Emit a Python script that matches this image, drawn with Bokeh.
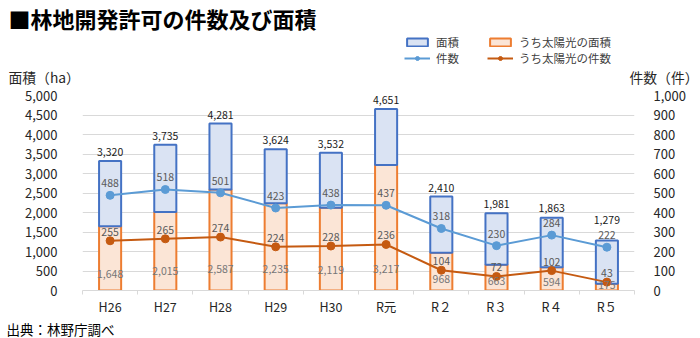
from bokeh.plotting import figure
from bokeh.layouts import column
from bokeh.models import (Range1d, LinearAxis, FixedTicker, ColumnDataSource, Label,
                          Legend, LegendItem, Grid, NumeralTickFormatter)
from bokeh.core.properties import value
from bokeh.embed import file_html
from bokeh.resources import INLINE
import numpy as np

categories = ["H26", "H27", "H28", "H29", "H30", "R元", "R２", "R３", "R４", "R５"]
total_area = [3320, 3735, 4281, 3624, 3532, 4651, 2410, 1981, 1863, 1279]
solar_area = [1648, 2015, 2587, 2235, 2119, 3217, 968, 663, 594, 175]
count = [488, 518, 501, 423, 438, 437, 318, 230, 284, 222]
solar_count = [255, 265, 274, 224, 228, 236, 104, 72, 102, 43]
area_ticks = [0, 500, 1000, 1500, 2000, 2500, 3000, 3500, 4000, 4500, 5000]
count_ticks = [0, 100, 200, 300, 400, 500, 600, 700, 800, 900, 1000]

FONT = "Noto Sans CJK JP"
BLUE_FILL, BLUE_LINE = "#DAE3F3", "#4472C4"
OR_FILL, OR_LINE = "#FBE5D6", "#ED7D31"
CNT_BLUE, CNT_OR = "#5B9BD5", "#C55A11"
W = 700
TOP_H, MAIN_H, BOT_H = 86, 232, 20

n = len(categories)
idx = list(range(n))

def bare(h):
    f = figure(width=W, height=h, x_range=Range1d(0, W), y_range=Range1d(0, h),
               output_backend="svg", toolbar_location=None,
               x_axis_location=None, y_axis_location=None, min_border=0)
    f.outline_line_color = None
    f.xgrid.visible = False
    f.ygrid.visible = False
    f.frame_align = False
    return f

def add_text(fig, txt, x, y, size, bold=False, color="#000000"):
    fig.add_layout(Label(x=x, y=y, x_units="screen", y_units="screen", text=txt,
                         text_font=FONT, text_font_size=size, text_color=color,
                         text_font_style="bold" if bold else "normal",
                         text_baseline="middle", text_align="left"))

# ---------- header: title, legend, axis titles ----------
top = bare(TOP_H)
add_text(top, "■林地開発許可の件数及び面積", 8, TOP_H - 17, "22px", bold=True)
add_text(top, "面積（ha）", 8, TOP_H - 76, "13.8px", color="#262626")
add_text(top, "件数（件）", 629, TOP_H - 76, "13.8px", color="#262626")

nan = [float("nan")]
lg_bl = top.vbar(x=nan, top=nan, width=1, fill_color=BLUE_FILL, line_color=BLUE_LINE, line_width=2)
lg_or = top.vbar(x=nan, top=nan, width=1, fill_color=OR_FILL, line_color=OR_LINE, line_width=2)
lg_l1 = top.line(x=nan, y=nan, line_color=CNT_BLUE, line_width=2)
lg_s1 = top.scatter(x=nan, y=nan, size=8, fill_color=CNT_BLUE, line_color=CNT_BLUE)
lg_l2 = top.line(x=nan, y=nan, line_color=CNT_OR, line_width=2)
lg_s2 = top.scatter(x=nan, y=nan, size=8, fill_color=CNT_OR, line_color=CNT_OR)
legend = Legend(items=[
    LegendItem(label="面積", renderers=[lg_bl]),
    LegendItem(label="件数", renderers=[lg_l1, lg_s1]),
    LegendItem(label="うち太陽光の面積", renderers=[lg_or]),
    LegendItem(label="うち太陽光の件数", renderers=[lg_l2, lg_s2]),
], location=(404, TOP_H - 66), nrows=2, orientation="vertical")
legend.label_text_font = FONT
legend.label_text_font_size = "11.5px"
legend.label_text_color = "#404040"
legend.glyph_width = 26
legend.glyph_height = 10
legend.label_height = 12
legend.label_width = 51
legend.label_standoff = 6
legend.spacing = -4
legend.padding = 0
legend.margin = 0
legend.border_line_color = None
legend.background_fill_alpha = 0
top.add_layout(legend, "center")

# ---------- main chart ----------
p = figure(width=W, height=MAIN_H, x_range=Range1d(-0.5, n - 0.5),
           y_range=Range1d(0, 5000), output_backend="svg", toolbar_location=None,
           x_axis_location=None, y_axis_location=None,
           min_border_left=82, min_border_right=66, min_border_top=9, min_border_bottom=27)
p.frame_align = False
p.extra_y_ranges = {"cnt": Range1d(0, 1000)}
p.outline_line_color = None
p.xgrid.visible = False
p.ygrid.visible = False

yax = LinearAxis(ticker=FixedTicker(ticks=area_ticks))
yax.axis_line_color = None
yax.major_tick_line_color = None
yax.minor_tick_line_color = None
yax.major_label_standoff = 19
yax.major_label_text_font = FONT
yax.major_label_text_font_size = "13px"
yax.major_label_text_color = "#262626"
yax.formatter = NumeralTickFormatter(format="0,0")
p.add_layout(yax, "left")

rax = LinearAxis(y_range_name="cnt", ticker=FixedTicker(ticks=count_ticks))
rax.axis_line_color = None
rax.major_tick_line_color = None
rax.minor_tick_line_color = None
rax.major_label_standoff = 13
rax.major_label_text_font = FONT
rax.major_label_text_font_size = "13px"
rax.major_label_text_color = "#262626"
rax.formatter = NumeralTickFormatter(format="0,0")
p.add_layout(rax, "right")

p.add_layout(Grid(dimension=1, ticker=yax.ticker, grid_line_color="#D9D9D9", grid_line_width=1))

xax = LinearAxis(ticker=FixedTicker(ticks=idx, minor_ticks=[i - 0.5 for i in range(n + 1)]))
xax.major_label_overrides = {i: c for i, c in zip(idx, categories)}
xax.axis_line_color = "#D9D9D9"
xax.major_tick_line_color = None
xax.minor_tick_line_color = "#D9D9D9"
xax.minor_tick_out = 4
xax.minor_tick_in = 0
xax.major_tick_out = 4
xax.major_label_standoff = 2
xax.major_label_text_font = FONT
xax.major_label_text_font_size = "12.5px"
xax.major_label_text_color = "#262626"
p.add_layout(xax, "below")

px_per_area = 5000 / 196.0
src = ColumnDataSource(dict(
    x=idx, total=total_area, solar=solar_area, cnt=count, scnt=solar_count,
    total_lbl=[f"{v:,}" for v in total_area],
    solar_lbl=[f"{v:,}" for v in solar_area],
    cnt_lbl=[str(v) for v in count],
    scnt_lbl=[str(v) for v in solar_count],
    total_lbl_y=list(np.maximum(np.array(total_area), np.array(count) * 5 + 18 * px_per_area)),
    solar_lbl_y=list(np.minimum(np.array(solar_area) * 0.2, 440)),
))

p.vbar(x="x", bottom=0, top="solar", width=0.4, source=src,
       fill_color=OR_FILL, line_color=OR_LINE, line_width=2)
p.vbar(x="x", bottom="solar", top="total", width=0.4, source=src,
       fill_color=BLUE_FILL, line_color=BLUE_LINE, line_width=2)

p.line(x="x", y="cnt", source=src, y_range_name="cnt", line_color=CNT_BLUE, line_width=2)
p.scatter(x="x", y="cnt", source=src, y_range_name="cnt", size=8,
          fill_color=CNT_BLUE, line_color=CNT_BLUE)
p.line(x="x", y="scnt", source=src, y_range_name="cnt", line_color=CNT_OR, line_width=2)
p.scatter(x="x", y="scnt", source=src, y_range_name="cnt", size=8,
          fill_color=CNT_OR, line_color=CNT_OR)

lbl_kw = dict(text_font=value(FONT), text_font_size="10.5px", text_align="center", source=src)
p.text(x="x", y="total_lbl_y", text="total_lbl", text_baseline="middle", y_offset=-9,
       text_color="#1a1a1a", **lbl_kw)
p.text(x="x", y="solar_lbl_y", text="solar_lbl", text_baseline="bottom",
       text_color="#767676", **lbl_kw)
p.text(x="x", y="cnt", text="cnt_lbl", text_baseline="middle", y_offset=-12,
       y_range_name="cnt", text_color="#595959", **lbl_kw)
p.text(x="x", y="scnt", text="scnt_lbl", text_baseline="middle", y_offset=-9,
       y_range_name="cnt", text_color="#595959", **lbl_kw)

# ---------- footer ----------
bot = bare(BOT_H)
add_text(bot, "出典：林野庁調べ", 6, BOT_H / 2, "13.5px", color="#000000")

layout = column(top, p, bot, spacing=0)
open("out.html", "w").write(file_html(layout, INLINE))
